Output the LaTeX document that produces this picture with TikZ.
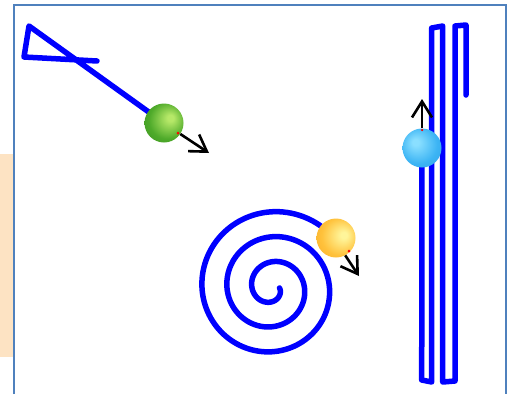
\documentclass[tikz,border=0pt]{standalone}
\usetikzlibrary{arrows.meta}
\definecolor{frameblue}{HTML}{4F81BD}
\definecolor{peach}{HTML}{FDE3C3}
\definecolor{gL}{HTML}{B6E868}
\definecolor{gM}{HTML}{4EAA2A}
\definecolor{gD}{HTML}{2E8419}
\definecolor{oL}{HTML}{FFF59A}
\definecolor{oM}{HTML}{FFC23C}
\definecolor{oD}{HTML}{F59E18}
\definecolor{bL}{HTML}{8ADFFF}
\definecolor{bM}{HTML}{3CB4F4}
\definecolor{bD}{HTML}{2A96E0}
\pgfdeclareradialshading{greenball}{\pgfpoint{9bp}{7bp}}{color(0bp)=(gL); color(4bp)=(gL); color(24bp)=(gM); color(50bp)=(gD)}
\pgfdeclareradialshading{orangeball}{\pgfpoint{11bp}{4bp}}{color(0bp)=(oL); color(4bp)=(oL); color(24bp)=(oM); color(50bp)=(oD)}
\pgfdeclareradialshading{blueball}{\pgfpoint{-9bp}{8bp}}{color(0bp)=(bL); color(4bp)=(bL); color(24bp)=(bM); color(50bp)=(bD)}
\tikzset{
  frameline/.style={draw=frameblue, line width=2pt},
  track/.style={draw=blue, line width=5.5pt, line join=round, line cap=round},
  ballnode/.style={circle, minimum size=39pt, inner sep=0pt},
  motion/.style={draw=black, line width=2.6pt, -{Straight Barb[length=16pt,width=20pt]}},
  reddot/.style={fill=red, circle, inner sep=0pt, minimum size=3pt}
}
\begin{document}
\begin{tikzpicture}[x=1pt,y=-1pt]
\useasboundingbox (0,0) rectangle (516,394);
% background panel and frame
\fill[peach] (0,154) rectangle (13,357);
\draw[frameline] (14,394) -- (14,5) -- (506,5) -- (506,394);
% balls (positions)
\coordinate (gc) at (164,123);
\coordinate (oc) at (336,238);
\coordinate (bc) at (422,148);
% triangle track
\draw[track] (97,61) -- (24,57) -- (29,26) -- (gc);
% spiral track
\draw[track] plot[domain=0:1042, samples=360, variable=\t, smooth]
  ({272+(7.5+\t/14.4)*cos(\t)}, {288+(7.5+\t/14.4)*sin(\t)});
% meander track
\draw[track] (bc) -- (421.7,380) -- (431.7,382) -- (431.7,28) -- (442.7,26)
  -- (442.7,382) -- (455,381) -- (455,26) -- (466,25) -- (466,95);
% balls
\node[ballnode, shading=greenball] (gball) at (gc) {};
\node[ballnode, shading=orangeball] (oball) at (oc) {};
\node[ballnode, shading=blueball] (bball) at (bc) {};
% arrows
\coordinate (gend) at (209,153);
\coordinate (oend) at (359,276);
\coordinate (bend) at (422,99);
\draw[motion] (gball.-34) -- (gend);
\draw[motion] (oball.-62) -- (oend);
\draw[motion] (bball.90) -- (bend);
\node[reddot] (gdot) at (178,133) {};
\node[reddot] (odot) at (349,251) {};
\node[reddot, minimum size=2.5pt] (bdot) at (422,130) {};
\end{tikzpicture}
\end{document}
